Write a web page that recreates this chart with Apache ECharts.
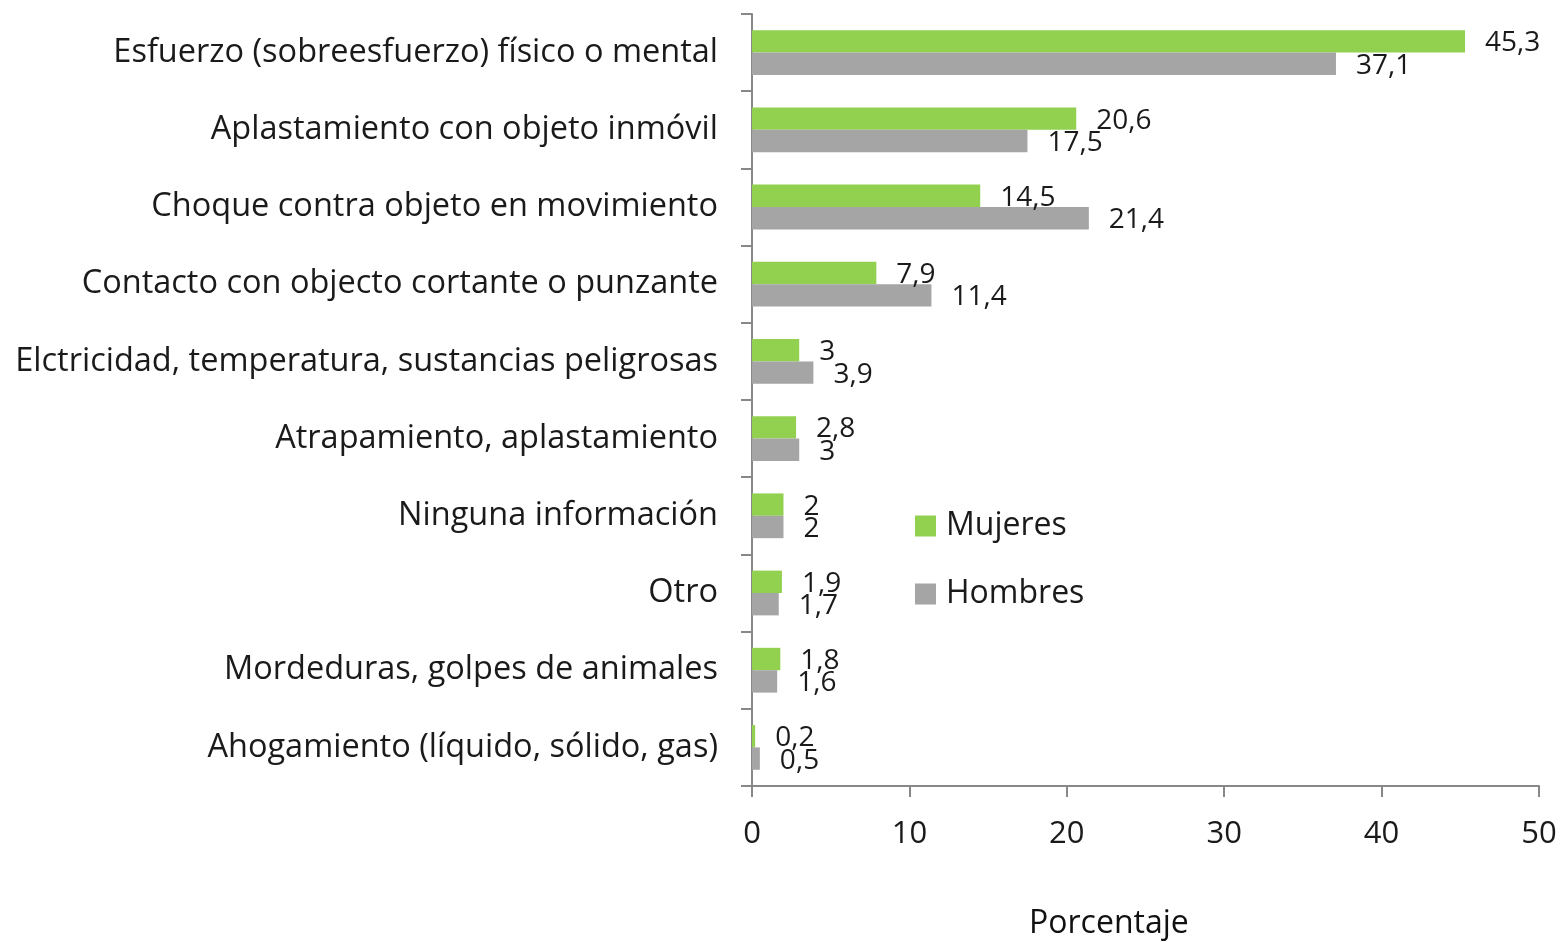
<!DOCTYPE html>
<html>
<head>
<meta charset="utf-8">
<script src="https://cdn.jsdelivr.net/npm/echarts@6/dist/echarts.min.js"></script>
<style>
html, body { margin: 0; padding: 0; background: #fff; }
#chart { width: 1563px; height: 942px; }
</style>
</head>
<body>
<div id="chart"></div>
<script>
const categories = [
  'Esfuerzo (sobreesfuerzo) físico o mental',
  'Aplastamiento con objeto inmóvil',
  'Choque contra objeto en movimiento',
  'Contacto con objecto cortante o punzante',
  'Elctricidad, temperatura, sustancias peligrosas',
  'Atrapamiento, aplastamiento',
  'Ninguna información',
  'Otro',
  'Mordeduras, golpes de animales',
  'Ahogamiento (líquido, sólido, gas)'
]
const mujeres = [45.3, 20.6, 14.5, 7.9, 3, 2.8, 2, 1.9, 1.8, 0.2]
const hombres = [37.1, 17.5, 21.4, 11.4, 3.9, 3, 2, 1.7, 1.6, 0.5]
const xTicks = [0, 10, 20, 30, 40, 50]

const chart = echarts.init(document.getElementById('chart'))

const fontFamily = '"Open Sans", "Noto Sans", sans-serif'
const axisColor = '#888888'

// label: coma decimal como en el original
const barLabel = {
  show: true,
  position: 'right',
  distance: 20,
  offset: [0, 2],
  color: '#1a1a1a',
  fontFamily: fontFamily,
  fontSize: 28,
  formatter: p => String(p.value).replace('.', ',')
}

const option = {
  backgroundColor: '#ffffff',
  animation: false,
  grid: { left: 752, right: 24, top: 14, bottom: 156 },
  legend: {
    orient: 'vertical',
    left: 910,
    top: 503,
    icon: 'rect',
    itemWidth: 21,
    itemHeight: 21,
    itemGap: 32,
    textStyle: { fontFamily: fontFamily, fontSize: 32, color: '#1a1a1a', lineHeight: 36, padding: [0, 0, 0, 5] },
    data: ['Mujeres', 'Hombres']
  },
  xAxis: {
    type: 'value',
    min: xTicks[0],
    max: xTicks[xTicks.length - 1],
    interval: 10,
    axisLine: { show: true, lineStyle: { color: axisColor, width: 2 } },
    axisTick: { show: true, length: 11, lineStyle: { color: axisColor, width: 2 } },
    splitLine: { show: false },
    axisLabel: { fontFamily: fontFamily, fontSize: 31, color: '#1a1a1a', margin: 33 }
  },
  yAxis: {
    type: 'category',
    inverse: true,
    data: categories,
    axisLine: { lineStyle: { color: axisColor, width: 2 } },
    axisTick: { show: true, length: 11, lineStyle: { color: axisColor, width: 2 } },
    axisLabel: { fontFamily: fontFamily, fontSize: 32.5, color: '#1a1a1a', margin: 34 }
  },
  series: [
    {
      name: 'Mujeres',
      type: 'bar',
      data: mujeres,
      barGap: '0%',
      barCategoryGap: '42%',
      itemStyle: { color: '#92d050' },
      label: barLabel
    },
    {
      name: 'Hombres',
      type: 'bar',
      data: hombres,
      itemStyle: { color: '#a5a5a5' },
      label: barLabel
    }
  ],
  graphic: [
    {
      type: 'text',
      left: 1029,
      top: 908,
      style: { text: 'Porcentaje', font: '32px ' + fontFamily, fill: '#111' }
    }
  ]
}

chart.setOption(option)
window.addEventListener('resize', () => chart.resize())
</script>
</body>
</html>
